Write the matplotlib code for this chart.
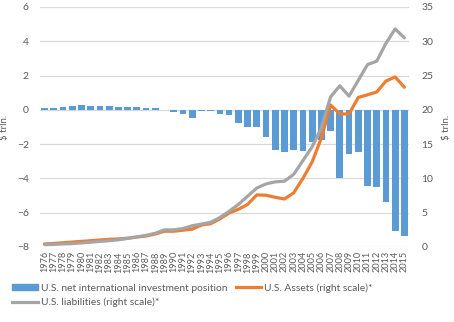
import numpy as np
import matplotlib.pyplot as plt
from matplotlib.patches import Patch
from matplotlib.lines import Line2D

plt.rcParams['font.family'] = ['Lato', 'DejaVu Sans']

# Dados (US$ trilhões)
anos = list(range(1976, 2016))

niip = [0.08, 0.08, 0.14, 0.25, 0.31, 0.25, 0.25, 0.25, 0.14, 0.14,
        0.14, 0.08, 0.08, -0.01, -0.14, -0.22, -0.45, -0.08, -0.08, -0.25,
        -0.30, -0.78, -1.02, -1.02, -1.57, -2.37, -2.47, -2.37, -2.42, -1.85,
        -1.75, -1.22, -3.98, -2.57, -2.45, -4.45, -4.51, -5.38, -7.04, -7.33]

ativos = [0.45, 0.52, 0.62, 0.72, 0.82, 0.92, 1.02, 1.12, 1.18, 1.28,
          1.45, 1.60, 1.90, 2.30, 2.30, 2.45, 2.60, 3.20, 3.40, 4.10,
          4.95, 5.50, 6.20, 7.60, 7.55, 7.25, 7.00, 7.90, 10.0, 12.4,
          15.9, 20.7, 19.4, 19.4, 21.8, 22.2, 22.6, 24.2, 24.8, 23.3]

passivos = [0.35, 0.38, 0.45, 0.50, 0.60, 0.70, 0.82, 0.92, 1.05, 1.25,
            1.48, 1.70, 2.00, 2.50, 2.50, 2.70, 3.10, 3.35, 3.60, 4.30,
            5.20, 6.20, 7.40, 8.60, 9.20, 9.50, 9.60, 10.6, 12.6, 14.6,
            17.4, 21.9, 23.5, 22.0, 24.3, 26.6, 27.1, 29.7, 31.8, 30.5]

azul = '#5b9bd5'
laranja = '#ed7d31'
cinza = '#a5a5a5'
texto = '#595959'

x = np.arange(len(anos))

fig = plt.figure(figsize=(4.54, 3.22), dpi=100)
ax = fig.add_axes([40 / 454, 1 - 247 / 322, 369 / 454, 240 / 322])
ax2 = ax.twinx()

ax.bar(x, niip, width=0.73, color=azul, zorder=2)
ax2.plot(x, ativos, color=laranja, lw=2.3, solid_capstyle='round')
ax2.plot(x, passivos, color=cinza, lw=2.3, solid_capstyle='round')

ax.set_xlim(-0.5, len(anos) - 0.5)
ax.set_ylim(-8, 6)
ax.set_yticks(range(-8, 7, 2))
ax2.set_ylim(0, 35)
ax2.set_yticks(range(0, 36, 5))

ax.set_xticks(x)
ax.set_xticklabels([str(a) for a in anos], rotation=90, fontsize=6.6, color=texto)
ax.tick_params(axis='x', length=0, pad=3)
ax.tick_params(axis='y', length=0, pad=8, labelsize=7.5, labelcolor=texto)
ax2.tick_params(axis='y', length=0, pad=9, labelsize=7.5, labelcolor=texto)

ax.grid(axis='y', color='#d9d9d9', lw=0.9, zorder=0)
ax.set_axisbelow(True)
for a in (ax, ax2):
    for s in a.spines.values():
        s.set_visible(False)

ax.set_ylabel('$ trln.', fontsize=7, color=texto)
ax.yaxis.set_label_coords(-0.084, 0.5)
ax2.set_ylabel('$ trln.', fontsize=7, color=texto, rotation=90)
ax2.yaxis.set_label_coords(1.089, 0.5)

handles = [Patch(color=azul),
           Line2D([], [], color=cinza, lw=2.3),
           Line2D([], [], color=laranja, lw=2.3)]
labels = ['U.S. net international investment position',
          'U.S. liabilities (right scale)*',
          'U.S. Assets (right scale)*']
fig.legend(handles, labels, loc='upper left', bbox_to_anchor=(12 / 454, 1 - 283 / 322),
           ncol=2, frameon=False, fontsize=7.4, labelcolor=texto,
           handlelength=2.5, handleheight=0.45, handletextpad=0.3,
           columnspacing=0.8, labelspacing=0.5, borderpad=0, borderaxespad=0)

fig.savefig('out.png', dpi=100)
